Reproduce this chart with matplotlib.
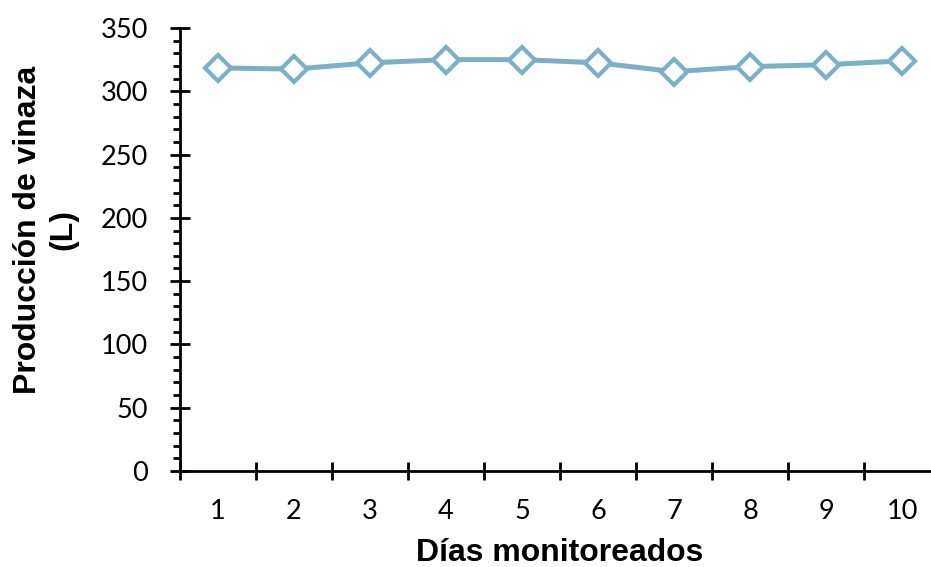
import matplotlib
matplotlib.use("Agg")
import matplotlib.pyplot as plt
from matplotlib.ticker import MultipleLocator, FixedLocator

dias = [1, 2, 3, 4, 5, 6, 7, 8, 9, 10]
produccion = [318.5, 317.5, 322.5, 325, 325, 322.5, 315.5, 319.5, 321, 324]

line_color = "#7AB0C8"
tick_font = "Lato"
label_font = "Liberation Sans"

fig = plt.figure(figsize=(9.31, 5.67), dpi=100)
ax = fig.add_axes([180 / 931, 1 - 471 / 567, 760 / 931, 443 / 567])

ax.plot(dias, produccion, color=line_color, lw=3.6, marker="D", ms=13,
        mfc="white", mec=line_color, mew=3, zorder=3, clip_on=False)

ax.set_xlim(0.5, 10.5)
ax.set_ylim(0, 350)

for s in ["top", "right"]:
    ax.spines[s].set_visible(False)
for s in ["left", "bottom"]:
    ax.spines[s].set_linewidth(2)

ax.yaxis.set_major_locator(MultipleLocator(50))
ax.yaxis.set_minor_locator(MultipleLocator(10))
ax.tick_params(axis="y", which="major", direction="inout", length=14.4, width=2,
               labelsize=19.5, pad=16)
ax.tick_params(axis="y", which="minor", direction="out", length=5, width=2)

# category ticks between days, labels centred on each day
ax.xaxis.set_major_locator(FixedLocator([d - 0.5 for d in dias] + [dias[-1] + 0.5]))
ax.xaxis.set_minor_locator(FixedLocator(dias))
ax.tick_params(axis="x", which="major", direction="inout", length=13, width=2,
               labelbottom=False)
ax.tick_params(axis="x", which="minor", length=0, labelsize=19.5, pad=20)
ax.set_xticklabels([str(d) for d in dias], minor=True)

for lab in ax.get_yticklabels() + ax.get_xticklabels(minor=True):
    lab.set_fontfamily(tick_font)

fig.text(560 / 931, 1 - 561 / 567, "Días monitoreados", fontsize=23,
         fontweight="bold", fontfamily=label_font, ha="center", va="baseline")
fig.text(46 / 931, 1 - 230 / 567, "Producción de vinaza\n(L)", fontsize=23,
         fontweight="bold", fontfamily=label_font, ha="center", va="center",
         rotation=90, linespacing=1.25, multialignment="center")

fig.savefig("out.png", dpi=100)
